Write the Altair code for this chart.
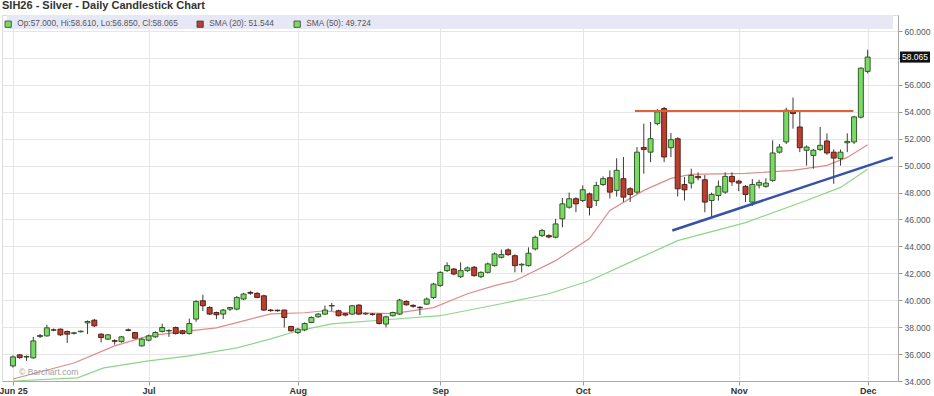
import altair as alt
import pandas as pd

TITLE = "SIH26 - Silver - Daily Candlestick Chart"
WATERMARK = "\u00a9 Barchart.com"

# month ticks (trading-day index) and their labels
month_idx = [0, 20, 42, 63, 84, 107, 126]
month_lbl = ["Jun 25", "Jul", "Aug", "Sep", "Oct", "Nov", "Dec"]
price_ticks = list(range(34, 61, 2))

# daily OHLC, one value per trading day
open_ = [35.12, 35.94, 35.78, 35.72, 37.30, 37.35, 37.80, 37.85, 37.68, 37.54,
         37.66, 38.32, 38.52, 37.48, 37.11, 37.00, 36.93, 37.80, 37.60, 36.61,
         37.03, 37.28, 37.68, 37.72, 37.97, 37.73, 37.53, 38.60, 39.96, 39.46,
         39.09, 38.97, 39.34, 39.34, 40.09, 40.58, 40.51, 40.33, 39.27, 39.26,
         39.27, 38.05, 37.60, 37.80, 38.35, 38.77, 38.97, 39.57, 39.22, 39.00,
         38.97, 39.64, 38.98, 38.97, 38.97, 38.23, 38.85, 38.97, 39.91, 39.62,
         39.48, 39.71, 40.20, 41.10, 42.20, 42.32, 41.75, 42.20, 42.45, 41.75,
         42.07, 42.57, 43.19, 43.74, 43.31, 42.62, 42.57, 43.81, 44.80, 44.80,
         44.68, 46.05, 46.91, 47.54, 47.41, 47.90, 47.40, 48.60, 49.10, 48.16,
         49.03, 48.28, 48.03, 51.35, 51.00, 53.12, 54.24, 51.33, 52.00, 48.60,
         48.70, 49.20, 48.95, 47.41, 47.78, 48.03, 49.20, 48.85, 48.46, 47.29,
         48.55, 48.46, 48.90, 51.00, 51.76, 54.00, 52.87, 51.14, 50.76, 51.19,
         51.83, 51.00, 50.52, 51.70, 51.76, 53.60, 57.00]
high_ = [35.90, 36.00, 35.90, 37.28, 37.50, 38.18, 37.90, 37.90, 37.75, 37.65,
         37.75, 38.50, 38.60, 37.55, 37.50, 37.10, 37.35, 37.90, 37.65, 37.20,
         37.45, 37.70, 38.25, 37.85, 38.05, 37.80, 38.64, 40.00, 40.41, 39.55,
         39.15, 39.35, 39.50, 40.30, 40.55, 40.70, 40.60, 40.40, 39.35, 39.30,
         39.30, 38.10, 37.95, 38.35, 38.80, 39.05, 39.60, 39.80, 39.30, 39.05,
         39.65, 39.70, 39.10, 39.05, 39.00, 38.85, 39.15, 40.10, 40.00, 39.70,
         39.55, 40.20, 41.30, 42.15, 42.82, 42.40, 42.82, 42.50, 42.55, 42.15,
         42.80, 43.55, 43.77, 43.85, 43.40, 42.75, 43.93, 44.80, 45.30, 44.90,
         46.05, 47.60, 48.00, 47.65, 48.53, 48.00, 48.80, 49.20, 49.65, 50.54,
         50.64, 48.40, 51.38, 53.12, 53.24, 54.20, 54.36, 52.43, 52.10, 49.15,
         49.77, 49.50, 49.30, 48.00, 48.90, 49.50, 49.50, 48.95, 48.55, 49.00,
         48.95, 49.07, 51.88, 51.60, 54.30, 55.06, 54.00, 51.50, 51.25, 52.87,
         52.40, 51.20, 51.20, 52.40, 53.70, 57.30, 58.61]
low_ = [35.00, 35.65, 35.50, 35.65, 37.20, 37.30, 37.70, 37.35, 36.83, 37.45,
        37.60, 37.48, 38.00, 36.86, 37.05, 36.70, 36.85, 37.70, 37.10, 36.55,
        36.95, 37.20, 37.60, 37.28, 37.45, 37.45, 37.45, 38.40, 39.20, 38.90,
        38.60, 38.60, 39.20, 39.25, 40.00, 40.40, 40.15, 39.20, 39.15, 39.15,
        37.97, 37.65, 37.50, 37.70, 38.30, 38.70, 38.90, 39.20, 38.80, 38.80,
        38.90, 38.90, 38.90, 38.85, 38.20, 37.98, 38.80, 38.90, 39.60, 39.45,
        38.90, 39.65, 40.10, 41.00, 42.10, 41.85, 41.65, 42.10, 41.75, 41.65,
        42.00, 42.50, 43.10, 43.30, 42.07, 42.07, 42.50, 43.70, 44.70, 44.60,
        44.60, 45.42, 46.80, 46.54, 47.30, 46.30, 47.00, 48.50, 47.56, 47.70,
        47.30, 47.30, 47.90, 49.40, 50.26, 53.00, 50.26, 50.64, 47.71, 47.41,
        48.30, 48.90, 46.54, 46.17, 47.40, 47.90, 48.50, 48.10, 47.30, 47.00,
        48.30, 48.35, 48.80, 50.90, 51.60, 52.75, 51.00, 50.00, 49.77, 51.10,
        50.80, 48.65, 50.00, 51.00, 51.60, 53.50, 56.85]
close_ = [35.79, 35.74, 35.82, 36.98, 37.38, 37.95, 37.78, 37.43, 37.48, 37.58,
          37.70, 38.42, 38.10, 37.23, 37.43, 36.95, 37.28, 37.76, 37.18, 37.11,
          37.35, 37.60, 37.97, 37.75, 37.53, 37.53, 38.27, 39.91, 39.59, 38.97,
          38.92, 39.27, 39.46, 40.21, 40.46, 40.52, 40.21, 39.27, 39.23, 39.22,
          38.72, 37.73, 37.85, 38.27, 38.72, 38.97, 39.27, 39.61, 38.85, 38.90,
          39.59, 38.97, 39.02, 38.95, 38.27, 38.77, 39.09, 40.01, 39.66, 39.55,
          39.44, 40.09, 41.20, 42.07, 42.57, 41.95, 42.20, 42.40, 41.83, 42.07,
          42.70, 43.44, 43.39, 43.39, 42.57, 42.67, 43.49, 44.68, 45.18, 44.70,
          45.67, 47.16, 47.54, 47.16, 48.21, 46.90, 48.53, 49.03, 48.03, 49.65,
          47.66, 47.86, 51.00, 51.20, 52.00, 53.99, 50.64, 51.93, 48.28, 48.20,
          49.27, 49.10, 47.29, 47.86, 48.46, 49.20, 48.80, 48.70, 47.86, 48.60,
          48.75, 48.70, 50.94, 51.38, 54.12, 53.87, 51.33, 51.38, 51.14, 51.51,
          50.94, 50.56, 51.00, 51.80, 53.62, 57.24, 58.065]

# moving averages (day index, value)
sma20_idx = [0, 9, 15, 20, 26, 30, 34, 38, 43, 46, 48, 56, 62, 67, 71, 74, 80, 85, 88, 93, 97, 100, 108, 115, 120, 123, 126]
sma20_val = [34.15, 35.34, 36.61, 37.35, 37.73, 37.95, 38.47, 38.99, 39.07, 39.22, 39.10, 39.00, 39.45, 40.48,
             41.08, 41.45, 42.94, 44.58, 46.67, 48.16, 49.05, 49.35, 49.42, 49.65, 50.02, 50.61, 51.544]
sma50_idx = [0, 9.5, 13.4, 20, 26, 33, 38, 42, 47, 55, 63, 72, 79, 85, 91.5, 98, 108, 117, 122, 126]
sma50_val = [34.00, 34.23, 34.97, 35.49, 35.87, 36.46, 37.13, 37.73, 38.25, 38.55, 38.85, 39.74, 40.48,
             41.45, 42.94, 44.43, 45.77, 47.41, 48.38, 49.724]

# drawn trend lines
res_idx = [91.7, 123.9]
res_val = [54.06, 54.06]
sup_idx = [97.2, 129.7]
sup_val = [45.18, 50.61]

XMIN, XMAX = -0.875, 129.74
YMIN, YMAX = 34.0, 61.19
BAND_BOTTOM = 60.15
W, H = 896, 366
FONT = "Liberation Sans"
GREEN, RED = "#78dc64", "#bb3f2f"

candles = pd.DataFrame({"i": list(range(len(open_))), "o": open_, "h": high_, "l": low_, "c": close_})
last = candles.tail(1)
sma20 = pd.DataFrame({"i": sma20_idx, "v": sma20_val})
sma50 = pd.DataFrame({"i": sma50_idx, "v": sma50_val})
res = pd.DataFrame({"i": res_idx, "v": res_val})
sup = pd.DataFrame({"i": sup_idx, "v": sup_val})
band_df = pd.DataFrame({"i": [XMIN], "i2": [XMAX], "v": [YMAX], "v2": [BAND_BOTTOM]})
wm_df = pd.DataFrame({"i": [0.9], "v": [34.65], "t": [WATERMARK]})

leg_labels = [
    f"Op:{open_[-1]:.3f}, Hi:{high_[-1]:.3f}, Lo:{low_[-1]:.3f}, Cl:{close_[-1]:.3f}",
    f"SMA (20): {sma20_val[-1]:.3f}",
    f"SMA (50): {sma50_val[-1]:.3f}",
]
leg_df = pd.DataFrame({"name": leg_labels})

label_expr = " : ".join(f"datum.value == {v} ? '{t}'" for v, t in zip(month_idx, month_lbl)) + " : ''"
# the tick label under the last-price tag is covered in the reference
hidden_tick = round(close_[-1] / 2) * 2
y_label_expr = f"datum.value == {hidden_tick} ? '' : format(datum.value, '.3f')"

xscale = alt.Scale(domain=[XMIN, XMAX], nice=False, zero=False)
yscale = alt.Scale(domain=[YMIN, YMAX], nice=False, zero=False)
xaxis = alt.Axis(values=month_idx, labelExpr=label_expr, title=None, grid=True, gridColor="#e6e6e6",
                 tickSize=4, tickColor="#999", domainColor="#aaa", labelFontSize=9, labelFontWeight="bold",
                 labelColor="#333", labelFont=FONT, labelPadding=1, labelFlush=False, labelOverlap=False)
yaxis = alt.Axis(orient="right", values=price_ticks, labelExpr=y_label_expr, title=None, grid=True,
                 gridColor="#e6e6e6", tickSize=4, tickColor="#999", domainColor="#aaa", labelFontSize=8.5,
                 labelColor="#555", labelFont=FONT, labelPadding=2, labelOverlap=False, labelFlush=False)


def X(f="i"):
    return alt.X(f"{f}:Q", scale=xscale, axis=xaxis)


def Y(f="v"):
    return alt.Y(f"{f}:Q", scale=yscale, axis=yaxis)


band = alt.Chart(band_df).mark_rect(color="#e7e8f6").encode(x=X(), x2="i2:Q", y=Y(), y2="v2:Q")

l50 = alt.Chart(sma50).mark_line(color="#8ed68a", strokeWidth=1.2).encode(x=X(), y=Y())
l20 = alt.Chart(sma20).mark_line(color="#dd8c88", strokeWidth=1.2).encode(x=X(), y=Y())

wick = alt.Chart(candles).mark_rule(color="#3a3a3a", strokeWidth=1).encode(x=X(), y=Y("l"), y2="h:Q")
body = alt.Chart(candles).mark_bar(size=5, strokeWidth=0.9).encode(
    x=X(), y=Y("o"), y2="c:Q",
    color=alt.condition("datum.c >= datum.o", alt.value(GREEN), alt.value(RED)),
    stroke=alt.condition("datum.c >= datum.o", alt.value("#2a4a22"), alt.value("#4a1810")))

lres = alt.Chart(res).mark_line(color="#e0623a", strokeWidth=2).encode(x=X(), y=Y())
lsup = alt.Chart(sup).mark_line(color="#3553a6", strokeWidth=2.5, clip=True).encode(x=X(), y=Y())

wm = alt.Chart(wm_df).mark_text(align="left", baseline="middle", fontSize=8.5, color="#a0a0a0",
                                font=FONT).encode(x=X(), y=Y(), text="t:N")

box = alt.Chart(last).mark_point(shape="M-1,-0.37L1,-0.37L1,0.37L-1,0.37Z", filled=True, size=900,
                                 color="#111", opacity=1).encode(x=alt.value(W + 17), y=Y("c"))
boxtxt = alt.Chart(last).mark_text(color="white", fontSize=8.5, font=FONT, baseline="middle").encode(
    x=alt.value(W + 17), y=Y("c"), text=alt.Text("c:Q", format=".3f"))

leg = alt.Chart(leg_df).mark_square(opacity=0, size=0).encode(
    color=alt.Color("name:N", scale=alt.Scale(domain=leg_labels, range=[GREEN, RED, GREEN]),
                    legend=alt.Legend(orient="none", legendX=2, legendY=5, direction="horizontal", title=None,
                                      symbolType="square", symbolSize=40, symbolOpacity=1,
                                      symbolStrokeColor="#3a3a3a", symbolStrokeWidth=0.8,
                                      labelFontSize=8.3, labelColor="#555", labelFont=FONT, labelLimit=400,
                                      columnPadding=17, labelOffset=5, padding=0)))

chart = alt.layer(band, l50, l20, wick, body, lres, lsup, wm, box, boxtxt, leg).properties(
    width=W, height=H,
    title=alt.TitleParams(TITLE, anchor="start", fontSize=11, fontWeight="bold", color="#333", font=FONT,
                          offset=4, frame="group"),
    autosize=alt.AutoSizeParams(type="none"),
    padding={"left": 2, "top": 15, "right": 36, "bottom": 15},
).configure_view(stroke="#d4d4d4").configure(background="white")

chart.save("out.html", embed_options={"renderer": "svg", "actions": False})
